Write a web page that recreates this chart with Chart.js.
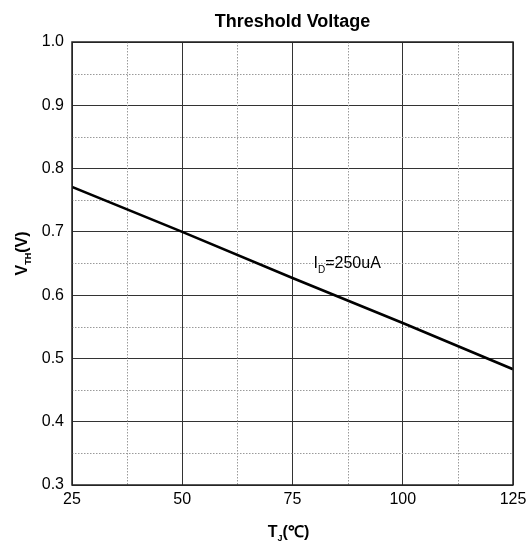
<!DOCTYPE html>
<html><head><meta charset="utf-8">
<script src="https://cdn.jsdelivr.net/npm/chart.js@4/dist/chart.umd.min.js"></script>
<style>html,body{margin:0;padding:0;background:#fff}canvas{display:block}</style>
</head><body>
<canvas id="c" width="529" height="543"></canvas>
<script>
const temps = [25, 50, 75, 100, 125];
const vth = [0.771, 0.700, 0.627, 0.556, 0.483];
const xTicks = [25, 50, 75, 100, 125];
const yTicks = [0.3, 0.4, 0.5, 0.6, 0.7, 0.8, 0.9, 1.0];
const xMinor = [37.5, 62.5, 87.5, 112.5];
const yMinor = [0.35, 0.45, 0.55, 0.65, 0.75, 0.85, 0.95];
const titleText = 'Threshold Voltage';
const noteMain = 'I', noteSub = 'D', noteRest = '=250uA';
const noteAt = {x: 80, y: 0.65};

const FONT = '"Liberation Sans", Arial, sans-serif';

const overlay = {
  id: 'overlay',
  beforeDatasetsDraw(chart) {
    const {ctx, chartArea: a, scales: {x, y}} = chart;
    ctx.save();
    ctx.strokeStyle = '#9a9a9a';
    ctx.lineWidth = 1;
    ctx.setLineDash([1.5, 1.5]);
    xMinor.forEach(v => {
      const px = Math.round(x.getPixelForValue(v)) + 0.5;
      ctx.beginPath(); ctx.moveTo(px, a.top); ctx.lineTo(px, a.bottom); ctx.stroke();
    });
    yMinor.forEach(v => {
      const py = Math.round(y.getPixelForValue(v)) + 0.5;
      ctx.beginPath(); ctx.moveTo(a.left, py); ctx.lineTo(a.right, py); ctx.stroke();
    });
    ctx.restore();
  },
  afterDraw(chart) {
    const {ctx, chartArea: a, scales: {x, y}} = chart;
    ctx.save();
    ctx.strokeStyle = '#222';
    ctx.lineWidth = 1.5;
    ctx.strokeRect(a.left, a.top, a.right - a.left, a.bottom - a.top);
    ctx.fillStyle = '#000';
    ctx.font = 'bold 18px ' + FONT;
    ctx.textAlign = 'center';
    ctx.textBaseline = 'middle';
    ctx.fillText(titleText, (a.left + a.right) / 2, 22);
    const nx = x.getPixelForValue(noteAt.x) - 1, ny = y.getPixelForValue(noteAt.y);
    ctx.textAlign = 'left';
    ctx.textBaseline = 'alphabetic';
    ctx.font = '16px ' + FONT;
    ctx.fillText(noteMain, nx, ny + 4);
    let w = ctx.measureText(noteMain).width;
    ctx.font = '10px ' + FONT;
    ctx.fillText(noteSub, nx + w, ny + 9);
    w += ctx.measureText(noteSub).width;
    ctx.font = '16px ' + FONT;
    ctx.fillText(noteRest, nx + w, ny + 4);
    function drawSub(main, sub, rest, cx, cy) {
      ctx.font = 'bold 16px ' + FONT;
      const w1 = ctx.measureText(main).width;
      const w3 = ctx.measureText(rest).width;
      ctx.font = 'bold 9px ' + FONT;
      const w2 = ctx.measureText(sub).width;
      const total = w1 + w2 + w3;
      let sx = cx - total / 2;
      ctx.textAlign = 'left';
      ctx.textBaseline = 'alphabetic';
      ctx.font = 'bold 16px ' + FONT;
      ctx.fillText(main, sx, cy + 6);
      ctx.font = 'bold 9px ' + FONT;
      ctx.fillText(sub, sx + w1, cy + 10);
      ctx.font = 'bold 16px ' + FONT;
      ctx.fillText(rest, sx + w1 + w2, cy + 6);
    }
    drawSub('T', 'J', '(\u2103)', (a.left + a.right) / 2 - 4, 531);
    ctx.save();
    ctx.translate(21, (a.top + a.bottom) / 2 - 10);
    ctx.rotate(-Math.PI / 2);
    drawSub('V', 'TH', '(V)', 0, 0);
    ctx.restore();
    ctx.restore();
  }
};

new Chart(document.getElementById('c'), {
  type: 'line',
  data: {
    datasets: [{
      data: temps.map((t, i) => ({x: t, y: vth[i]})),
      borderColor: '#000',
      borderWidth: 2.6,
      pointRadius: 0,
      tension: 0,
      fill: false
    }]
  },
  options: {
    responsive: false,
    animation: false,
    layout: {padding: {top: 42, right: 16, left: 0, bottom: 0}},
    plugins: {legend: {display: false}, tooltip: {enabled: false}, title: {display: false}},
    scales: {
      x: {
        type: 'linear', min: 25, max: 125,
        afterBuildTicks: s => { s.ticks = xTicks.map(v => ({value: v})); },
        afterFit: s => { s.height = 58; s.paddingLeft = 0; s.paddingRight = 0; },
        grid: {color: '#333', lineWidth: 1, drawTicks: false},
        border: {display: false},
        ticks: {color: '#000', font: {family: FONT, size: 16}, padding: 5, maxRotation: 0,
                callback: v => String(v)}
      },
      y: {
        type: 'linear', min: 0.3, max: 1.0,
        afterBuildTicks: s => { s.ticks = yTicks.map(v => ({value: v})); },
        afterFit: s => { s.width = 72; s.paddingTop = 0; s.paddingBottom = 0; },
        grid: {color: '#333', lineWidth: 1, drawTicks: false},
        border: {display: false},
        ticks: {color: '#000', font: {family: FONT, size: 16}, padding: 8,
                callback: v => Number(v).toFixed(1)}
      }
    }
  },
  plugins: [overlay]
});
</script>
</body></html>
